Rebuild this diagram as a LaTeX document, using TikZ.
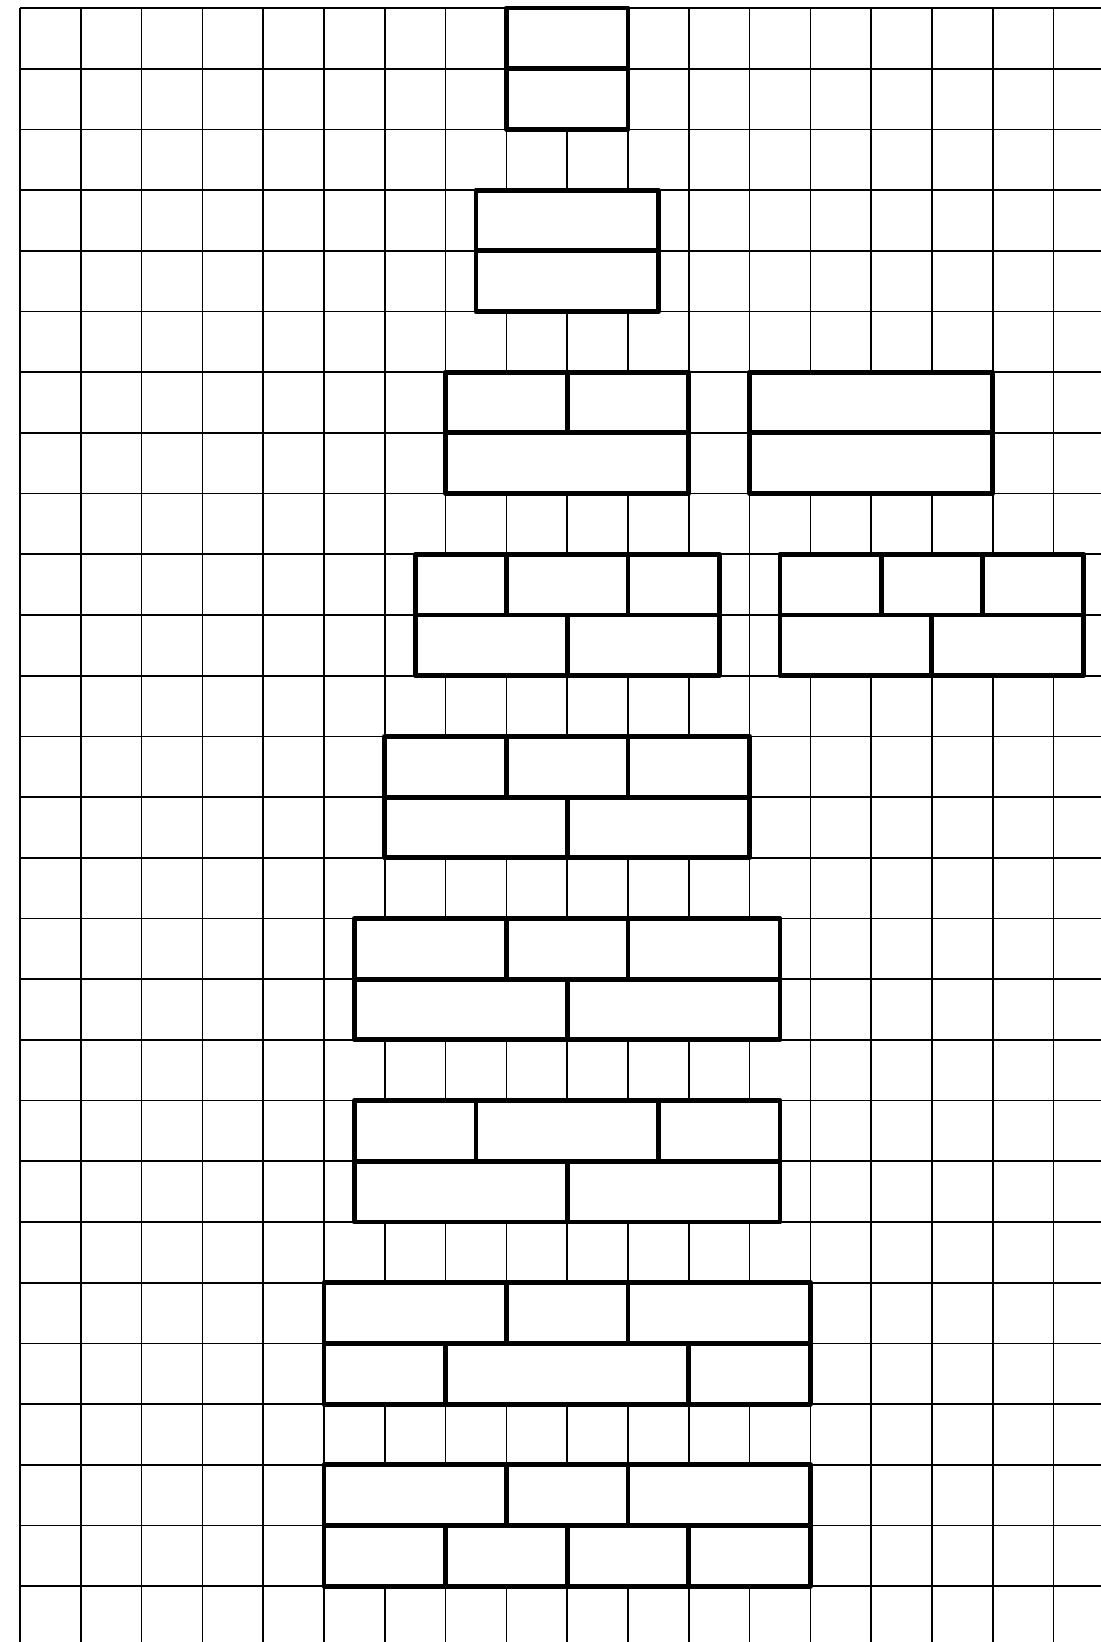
\documentclass[tikz,border=0pt]{standalone}
\usepackage{tikz}

\begin{document}
\begin{tikzpicture}[
  x=1cm, y=-0.9984cm,
  gridline/.style={draw=black, line width=0.8pt},
  brick/.style={draw=black, fill=white, line width=2.3pt, line join=round},
]
\useasboundingbox (-0.329,-0.1318) rectangle (17.78,26.92);
% squared paper
\foreach \j in {0,...,26}
  \draw[gridline] (0,\j) -- (17.78,\j);
\foreach \i in {0,...,17}
  \draw[gridline] (\i,0) -- (\i,26.92);
% walls, top to bottom (left x / right x / row)
\foreach \a/\b/\r in {
    8/10/0, 8/10/1,
    7.5/10.5/3, 7.5/10.5/4,
    7/9/6, 9/11/6, 7/11/7,
    6.5/8/9, 8/10/9, 10/11.5/9, 6.5/9/10, 9/11.5/10,
    6/8/12, 8/10/12, 10/12/12, 6/9/13, 9/12/13,
    5.5/8/15, 8/10/15, 10/12.5/15, 5.5/9/16, 9/12.5/16,
    5.5/7.5/18, 7.5/10.5/18, 10.5/12.5/18, 5.5/9/19, 9/12.5/19,
    5/8/21, 8/10/21, 10/13/21, 5/7/22, 7/11/22, 11/13/22,
    5/8/24, 8/10/24, 10/13/24, 5/7/25, 7/9/25, 9/11/25, 11/13/25}
  \draw[brick] (\a,\r) rectangle (\b,\r+1);
% walls on the right
\foreach \a/\b/\r in {
    12/16/6, 12/16/7,
    12.5/14.1667/9, 14.1667/15.8333/9, 15.8333/17.5/9,
    12.5/15/10, 15/17.5/10}
  \draw[brick] (\a,\r) rectangle (\b,\r+1);
\end{tikzpicture}
\end{document}
